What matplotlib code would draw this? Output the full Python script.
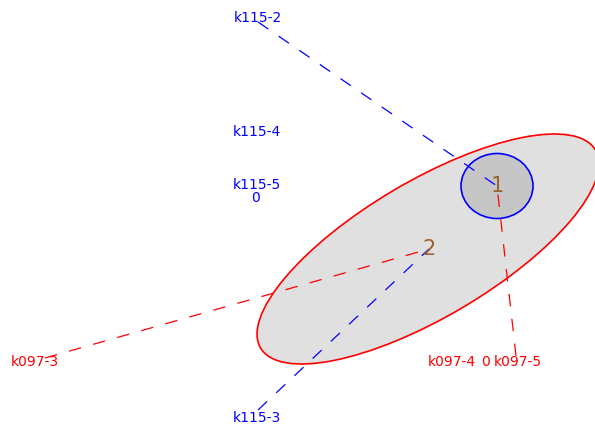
import matplotlib.pyplot as plt
from matplotlib.patches import Ellipse

# positions (pixel units, y grows downwards)
cluster_names = ['1', '2']
cluster_x = [497, 429]
cluster_y = [186, 249]

# ellipses: centre, full width, full height, angle
ell_x = [497, 428]
ell_y = [186, 249]
ell_w = [72, 389]
ell_h = [65, 136]
ell_angle = [0, -30.6]
ell_edge = ['#0000ff', '#ff0000']
ell_fill = ['#c6c6c6', '#e0e0e0']

point_names = ['k115-2', 'k115-4', 'k115-5', 'k115-3', 'k097-3', 'k097-4', 'k097-5']
point_x = [258, 257, 257, 257, 35, 452, 518]
point_y = [18, 132, 185, 418, 362, 362, 362]
point_col = ['#0000ff', '#0000ff', '#0000ff', '#0000ff', '#ff0000', '#ff0000', '#ff0000']

# dashed links: start point -> cluster index
link_x = [258, 258, 45, 516]
link_y = [22, 410, 358, 356]
link_to = [0, 1, 1, 0]
link_col = ['#0000ff', '#0000ff', '#ff0000', '#ff0000']

# "0" markers
zero_x = [256, 485]
zero_y = [198, 362]
zero_col = ['#0000ff', '#ff0000']

fig = plt.figure(figsize=(5.95, 4.25), dpi=100)
ax = fig.add_axes([0, 0, 1, 1])
ax.set_xlim(0, 595)
ax.set_ylim(425, 0)
ax.axis('off')

# fills first (big one under the small one)
for i in [1, 0]:
    ax.add_patch(Ellipse((ell_x[i], ell_y[i]), ell_w[i], ell_h[i], angle=ell_angle[i],
                         facecolor=ell_fill[i], edgecolor='none', zorder=1))
for i in [1, 0]:
    ax.add_patch(Ellipse((ell_x[i], ell_y[i]), ell_w[i], ell_h[i], angle=ell_angle[i],
                         facecolor='none', edgecolor=ell_edge[i], lw=1.2, zorder=2))

for sx, sy, c, col in zip(link_x, link_y, link_to, link_col):
    ax.plot([sx, cluster_x[c]], [sy, cluster_y[c]], color=col, lw=0.9,
            dashes=(10, 10), zorder=3)

for name, x, y, col in zip(point_names, point_x, point_y, point_col):
    ax.text(x, y, name, color=col, fontsize=10, family='DejaVu Sans',
            ha='center', va='center', zorder=4)

for x, y, col in zip(zero_x, zero_y, zero_col):
    ax.text(x, y, '0', color=col, fontsize=10, family='DejaVu Sans',
            ha='center', va='center', zorder=4)

for name, x, y in zip(cluster_names, cluster_x, cluster_y):
    ax.text(x, y, name, color='#9a6230', fontsize=15, family='DejaVu Sans',
            ha='center', va='center', zorder=5)

fig.savefig('out.png', dpi=100)
